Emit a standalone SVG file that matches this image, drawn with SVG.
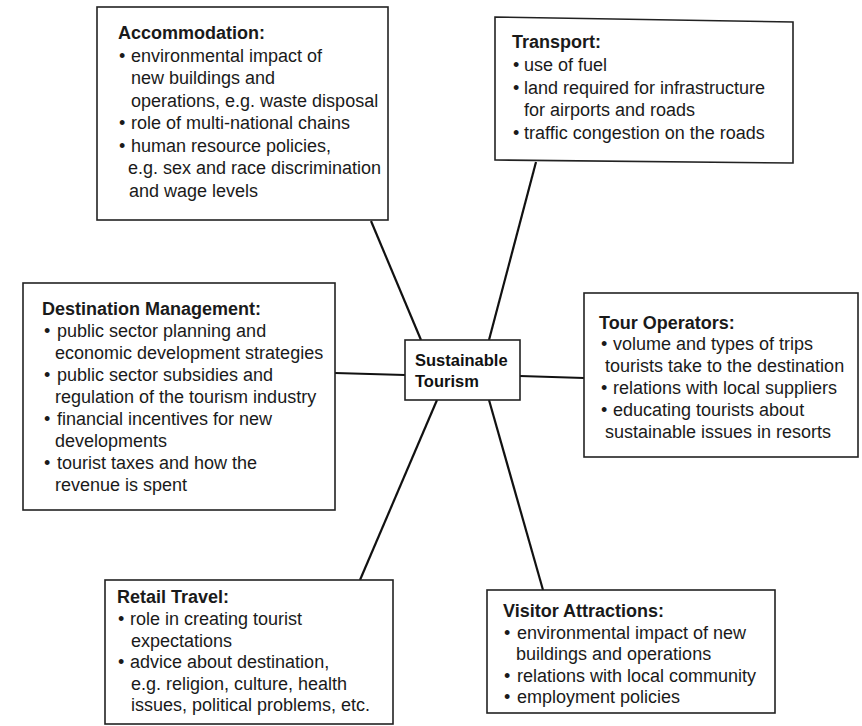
<svg xmlns="http://www.w3.org/2000/svg" width="862" height="726" viewBox="0 0 862 726">
<style>
.box{fill:#fff;stroke:#222;stroke-width:1.6}
.t{font-family:"Liberation Sans",Arial,sans-serif;font-size:18px;fill:#1a1a1a}
.h{font-weight:bold}
.c{font-family:"Liberation Sans",Arial,sans-serif;font-size:16.5px;font-weight:bold;fill:#111}
.ln{stroke:#111;stroke-width:2.2;fill:none}
</style>
<rect width="862" height="726" fill="#fff"/>
<g id="connectors">
<line class="ln" x1="371" y1="221" x2="421" y2="340"/>
<line class="ln" x1="536" y1="162" x2="489" y2="340"/>
<line class="ln" x1="335" y1="373" x2="405" y2="375"/>
<line class="ln" x1="520" y1="376" x2="584" y2="378"/>
<line class="ln" x1="437" y1="400" x2="360" y2="580"/>
<line class="ln" x1="489" y1="400" x2="543" y2="590"/>
</g>
<g id="accommodation">
<rect class="box" x="97" y="7" width="291" height="213"/>
<text class="t"><tspan class="h" x="118" y="39">Accommodation:</tspan><tspan x="119" y="61.5">•</tspan><tspan x="131" y="61.5">environmental impact of</tspan><tspan x="131" y="84">new buildings and</tspan><tspan x="131" y="106.5">operations, e.g. waste disposal</tspan><tspan x="119" y="129">•</tspan><tspan x="131" y="129">role of multi-national chains</tspan><tspan x="119" y="151.5">•</tspan><tspan x="131" y="151.5">human resource policies,</tspan><tspan x="128" y="174">e.g. sex and race discrimination</tspan><tspan x="129" y="196.5">and wage levels</tspan></text>
</g>
<g id="transport">
<polygon class="box" points="495,17 793,22 793,163 495,160"/>
<text class="t"><tspan class="h" x="512" y="48">Transport:</tspan><tspan x="513" y="71">•</tspan><tspan x="524" y="71">use of fuel</tspan><tspan x="513" y="93.5">•</tspan><tspan x="524" y="93.5">land required for infrastructure</tspan><tspan x="524" y="116">for airports and roads</tspan><tspan x="513" y="138.5">•</tspan><tspan x="524" y="138.5">traffic congestion on the roads</tspan></text>
</g>
<g id="destination-management">
<rect class="box" x="23" y="283" width="312" height="227"/>
<text class="t"><tspan class="h" x="42" y="315">Destination Management:</tspan><tspan x="44" y="337">•</tspan><tspan x="57" y="337">public sector planning and</tspan><tspan x="55" y="359">economic development strategies</tspan><tspan x="44" y="381">•</tspan><tspan x="57" y="381">public sector subsidies and</tspan><tspan x="55" y="403">regulation of the tourism industry</tspan><tspan x="44" y="425">•</tspan><tspan x="57" y="425">financial incentives for new</tspan><tspan x="55" y="447">developments</tspan><tspan x="44" y="469">•</tspan><tspan x="57" y="469">tourist taxes and how the</tspan><tspan x="55" y="491">revenue is spent</tspan></text>
</g>
<g id="sustainable-tourism">
<rect class="box" x="405" y="340" width="115" height="60"/>
<text class="c"><tspan x="415" y="366">Sustainable</tspan><tspan x="415" y="387">Tourism</tspan></text>
</g>
<g id="tour-operators">
<rect class="box" x="584" y="293" width="274" height="164"/>
<text class="t"><tspan class="h" x="599" y="329">Tour Operators:</tspan><tspan x="601" y="350">•</tspan><tspan x="613" y="350">volume and types of trips</tspan><tspan x="605" y="372">tourists take to the destination</tspan><tspan x="601" y="394">•</tspan><tspan x="613" y="394">relations with local suppliers</tspan><tspan x="601" y="416">•</tspan><tspan x="613" y="416">educating tourists about</tspan><tspan x="605" y="438">sustainable issues in resorts</tspan></text>
</g>
<g id="retail-travel">
<rect class="box" x="105" y="580" width="288" height="144"/>
<text class="t"><tspan class="h" x="117" y="603">Retail Travel:</tspan><tspan x="118" y="625">•</tspan><tspan x="130" y="625">role in creating tourist</tspan><tspan x="131" y="646.5">expectations</tspan><tspan x="118" y="668">•</tspan><tspan x="130" y="668">advice about destination,</tspan><tspan x="131" y="689.5">e.g. religion, culture, health</tspan><tspan x="131" y="711">issues, political problems, etc.</tspan></text>
</g>
<g id="visitor-attractions">
<rect class="box" x="487" y="590" width="288" height="123"/>
<text class="t"><tspan class="h" x="503" y="617">Visitor Attractions:</tspan><tspan x="504" y="639">•</tspan><tspan x="517" y="639">environmental impact of new</tspan><tspan x="516" y="660">buildings and operations</tspan><tspan x="504" y="682">•</tspan><tspan x="517" y="682">relations with local community</tspan><tspan x="504" y="703">•</tspan><tspan x="517" y="703">employment policies</tspan></text>
</g>
</svg>
